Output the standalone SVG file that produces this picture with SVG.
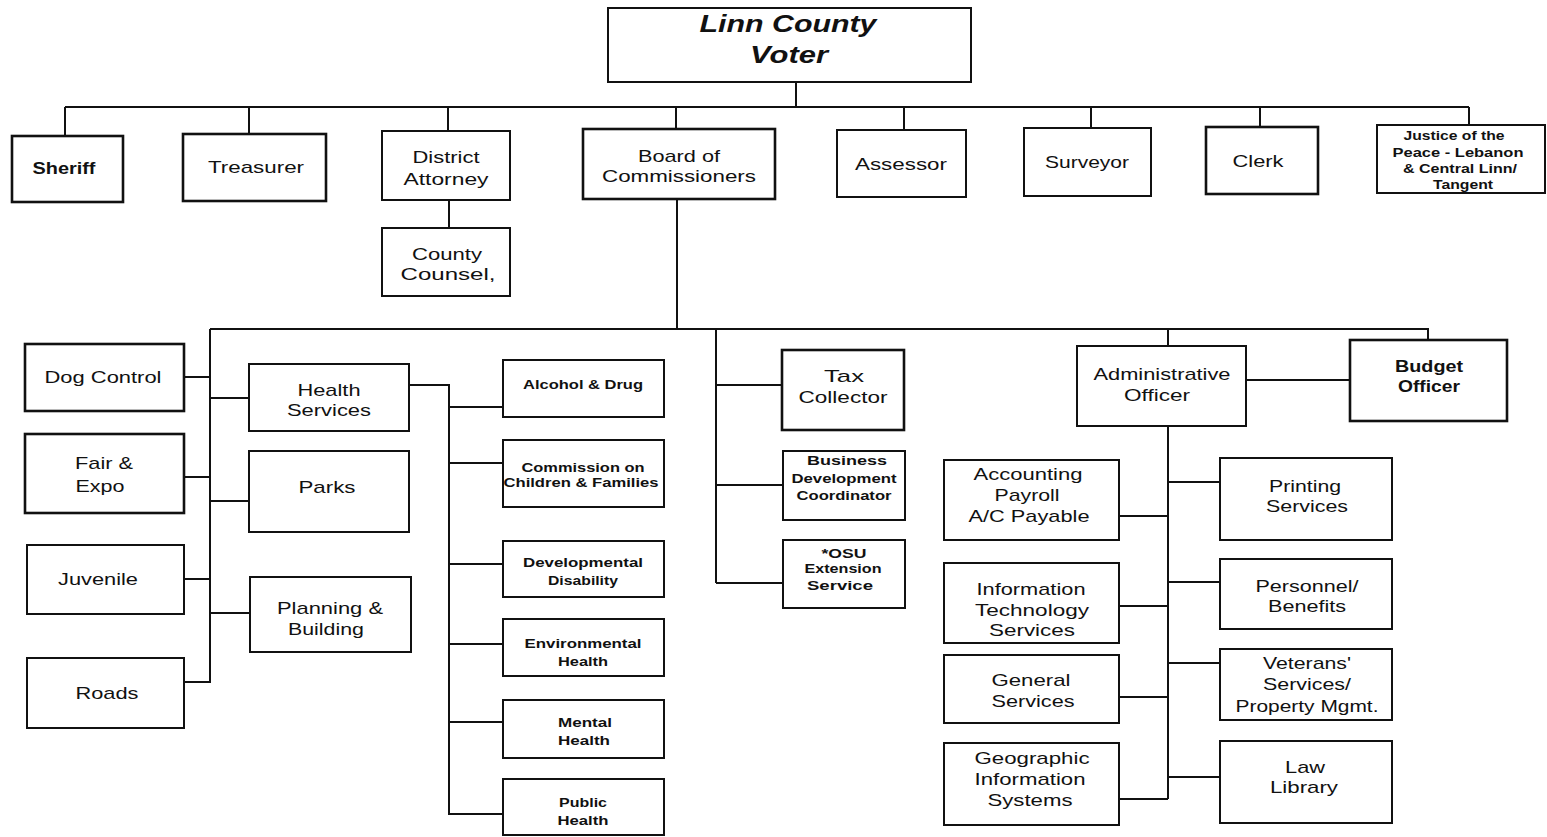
<svg xmlns="http://www.w3.org/2000/svg" width="1547" height="837" viewBox="0 0 1547 837">
<style>
.box{fill:#fff;stroke:#111;stroke-width:2}
.heavy{stroke-width:2.6}
.c{fill:none;stroke:#111;stroke-width:2}
text{font-family:"Liberation Sans",Arial,sans-serif;fill:#111;text-anchor:middle}
.t{font-size:17px}
.b{font-weight:bold}
.s{font-size:13px;font-weight:bold}
.v{font-size:24px;font-weight:bold;font-style:italic}
</style>
<rect width="1547" height="837" fill="#fff"/>
<g id="connectors">
<path class="c" d="M796 82V107M65 107H1469M65 107V136M249 107V134M448 107V131M676 107V129M904 107V130M1091 107V128M1260 107V127M1469 107V125"/>
<path class="c" d="M449 200V228M677 199V329M210 329H1428V340M210 329V683"/>
<path class="c" d="M184 377H210M184 477H210M184 579H210M184 682H210M210 398H249M210 501H249M210 613H250"/>
<path class="c" d="M409 385H449V814H503M449 407H503M449 463H503M449 564H503M449 644H503M449 722H503"/>
<path class="c" d="M716 329V583M716 385H782M716 485H783M716 583H783"/>
<path class="c" d="M1168 329V346M1246 380H1350M1168 426V799M1119 516H1168M1119 606H1168M1119 697H1168M1119 799H1168M1168 482H1220M1168 582H1220M1168 663H1220M1168 777H1220"/>
</g>
<g id="voter"><rect class="box" x="608" y="8" width="363" height="74"/><text class="v" x="788" y="32" textLength="177" lengthAdjust="spacingAndGlyphs">Linn County</text><text class="v" x="789" y="63" textLength="78" lengthAdjust="spacingAndGlyphs">Voter</text></g>
<g id="sheriff"><rect class="box heavy" x="12" y="136" width="111" height="66"/><text class="t b" x="64" y="174" textLength="63" lengthAdjust="spacingAndGlyphs">Sheriff</text></g>
<g id="treasurer"><rect class="box heavy" x="183" y="134" width="143" height="67"/><text class="t" x="256" y="173" textLength="96" lengthAdjust="spacingAndGlyphs">Treasurer</text></g>
<g id="district-attorney"><rect class="box" x="382" y="131" width="128" height="69"/><text class="t" x="446" y="163" textLength="67" lengthAdjust="spacingAndGlyphs">District</text><text class="t" x="446" y="185" textLength="85" lengthAdjust="spacingAndGlyphs">Attorney</text></g>
<g id="county-counsel"><rect class="box" x="382" y="228" width="128" height="68"/><text class="t" x="447" y="260" textLength="70" lengthAdjust="spacingAndGlyphs">County</text><text class="t" x="448" y="280" textLength="95" lengthAdjust="spacingAndGlyphs">Counsel,</text></g>
<g id="board"><rect class="box heavy" x="583" y="129" width="192" height="70"/><text class="t" x="679" y="162" textLength="82" lengthAdjust="spacingAndGlyphs">Board of</text><text class="t" x="679" y="182" textLength="154" lengthAdjust="spacingAndGlyphs">Commissioners</text></g>
<g id="assessor"><rect class="box" x="837" y="130" width="129" height="67"/><text class="t" x="901" y="170" textLength="92" lengthAdjust="spacingAndGlyphs">Assessor</text></g>
<g id="surveyor"><rect class="box" x="1024" y="128" width="127" height="68"/><text class="t" x="1087" y="168" textLength="84" lengthAdjust="spacingAndGlyphs">Surveyor</text></g>
<g id="clerk"><rect class="box heavy" x="1206" y="127" width="112" height="67"/><text class="t" x="1258" y="167" textLength="51" lengthAdjust="spacingAndGlyphs">Clerk</text></g>
<g id="justice"><rect class="box" x="1377" y="125" width="168" height="68"/><text class="s" x="1454" y="140" textLength="101" lengthAdjust="spacingAndGlyphs">Justice of the</text><text class="s" x="1458" y="157" textLength="131" lengthAdjust="spacingAndGlyphs">Peace - Lebanon</text><text class="s" x="1460" y="173" textLength="114" lengthAdjust="spacingAndGlyphs">&amp; Central Linn/</text><text class="s" x="1463" y="189" textLength="60" lengthAdjust="spacingAndGlyphs">Tangent</text></g>
<g id="dog-control"><rect class="box heavy" x="25" y="344" width="159" height="67"/><text class="t" x="103" y="383" textLength="117" lengthAdjust="spacingAndGlyphs">Dog Control</text></g>
<g id="fair-expo"><rect class="box heavy" x="25" y="434" width="159" height="79"/><text class="t" x="104" y="469" textLength="58" lengthAdjust="spacingAndGlyphs">Fair &amp;</text><text class="t" x="100" y="492" textLength="49" lengthAdjust="spacingAndGlyphs">Expo</text></g>
<g id="juvenile"><rect class="box" x="27" y="545" width="157" height="69"/><text class="t" x="98" y="585" textLength="80" lengthAdjust="spacingAndGlyphs">Juvenile</text></g>
<g id="roads"><rect class="box" x="27" y="658" width="157" height="70"/><text class="t" x="107" y="699" textLength="63" lengthAdjust="spacingAndGlyphs">Roads</text></g>
<g id="health-services"><rect class="box" x="249" y="364" width="160" height="67"/><text class="t" x="329" y="396" textLength="63" lengthAdjust="spacingAndGlyphs">Health</text><text class="t" x="329" y="416" textLength="84" lengthAdjust="spacingAndGlyphs">Services</text></g>
<g id="parks"><rect class="box" x="249" y="451" width="160" height="81"/><text class="t" x="327" y="493" textLength="57" lengthAdjust="spacingAndGlyphs">Parks</text></g>
<g id="planning"><rect class="box" x="250" y="577" width="161" height="75"/><text class="t" x="330" y="614" textLength="106" lengthAdjust="spacingAndGlyphs">Planning &amp;</text><text class="t" x="326" y="635" textLength="76" lengthAdjust="spacingAndGlyphs">Building</text></g>
<g id="alcohol-drug"><rect class="box" x="503" y="360" width="161" height="57"/><text class="s" x="583" y="389" textLength="120" lengthAdjust="spacingAndGlyphs">Alcohol &amp; Drug</text></g>
<g id="commission"><rect class="box" x="503" y="440" width="161" height="67"/><text class="s" x="583" y="472" textLength="123" lengthAdjust="spacingAndGlyphs">Commission on</text><text class="s" x="581" y="487" textLength="155" lengthAdjust="spacingAndGlyphs">Children &amp; Families</text></g>
<g id="developmental"><rect class="box" x="503" y="541" width="161" height="56"/><text class="s" x="583" y="567" textLength="120" lengthAdjust="spacingAndGlyphs">Developmental</text><text class="s" x="583" y="585" textLength="70" lengthAdjust="spacingAndGlyphs">Disability</text></g>
<g id="environmental"><rect class="box" x="503" y="619" width="161" height="57"/><text class="s" x="583" y="648" textLength="117" lengthAdjust="spacingAndGlyphs">Environmental</text><text class="s" x="583" y="666" textLength="50" lengthAdjust="spacingAndGlyphs">Health</text></g>
<g id="mental-health"><rect class="box" x="503" y="700" width="161" height="58"/><text class="s" x="585" y="727" textLength="54" lengthAdjust="spacingAndGlyphs">Mental</text><text class="s" x="584" y="745" textLength="52" lengthAdjust="spacingAndGlyphs">Health</text></g>
<g id="public-health"><rect class="box" x="503" y="779" width="161" height="56"/><text class="s" x="583" y="807" textLength="48" lengthAdjust="spacingAndGlyphs">Public</text><text class="s" x="583" y="825" textLength="51" lengthAdjust="spacingAndGlyphs">Health</text></g>
<g id="tax-collector"><rect class="box heavy" x="782" y="350" width="122" height="80"/><text class="t" x="844" y="382" textLength="40" lengthAdjust="spacingAndGlyphs">Tax</text><text class="t" x="843" y="403" textLength="89" lengthAdjust="spacingAndGlyphs">Collector</text></g>
<g id="business-dev"><rect class="box" x="783" y="451" width="122" height="69"/><text class="s" x="847" y="465" textLength="80" lengthAdjust="spacingAndGlyphs">Business</text><text class="s" x="844" y="483" textLength="105" lengthAdjust="spacingAndGlyphs">Development</text><text class="s" x="844" y="500" textLength="95" lengthAdjust="spacingAndGlyphs">Coordinator</text></g>
<g id="osu-extension"><rect class="box" x="783" y="540" width="122" height="68"/><text class="s" x="844" y="558" textLength="45" lengthAdjust="spacingAndGlyphs">*OSU</text><text class="s" x="843" y="573" textLength="77" lengthAdjust="spacingAndGlyphs">Extension</text><text class="s" x="840" y="590" textLength="66" lengthAdjust="spacingAndGlyphs">Service</text></g>
<g id="admin-officer"><rect class="box" x="1077" y="346" width="169" height="80"/><text class="t" x="1162" y="380" textLength="137" lengthAdjust="spacingAndGlyphs">Administrative</text><text class="t" x="1157" y="401" textLength="66" lengthAdjust="spacingAndGlyphs">Officer</text></g>
<g id="budget-officer"><rect class="box heavy" x="1350" y="340" width="157" height="81"/><text class="t b" x="1429" y="372" textLength="68" lengthAdjust="spacingAndGlyphs">Budget</text><text class="t b" x="1429" y="392" textLength="62" lengthAdjust="spacingAndGlyphs">Officer</text></g>
<g id="accounting"><rect class="box" x="944" y="460" width="175" height="80"/><text class="t" x="1028" y="480" textLength="109" lengthAdjust="spacingAndGlyphs">Accounting</text><text class="t" x="1027" y="501" textLength="65" lengthAdjust="spacingAndGlyphs">Payroll</text><text class="t" x="1029" y="522" textLength="121" lengthAdjust="spacingAndGlyphs">A/C Payable</text></g>
<g id="it-services"><rect class="box" x="944" y="563" width="175" height="80"/><text class="t" x="1031" y="595" textLength="109" lengthAdjust="spacingAndGlyphs">Information</text><text class="t" x="1032" y="616" textLength="114" lengthAdjust="spacingAndGlyphs">Technology</text><text class="t" x="1032" y="636" textLength="86" lengthAdjust="spacingAndGlyphs">Services</text></g>
<g id="general-services"><rect class="box" x="944" y="655" width="175" height="68"/><text class="t" x="1031" y="686" textLength="79" lengthAdjust="spacingAndGlyphs">General</text><text class="t" x="1033" y="707" textLength="83" lengthAdjust="spacingAndGlyphs">Services</text></g>
<g id="gis"><rect class="box" x="944" y="743" width="175" height="82"/><text class="t" x="1032" y="764" textLength="115" lengthAdjust="spacingAndGlyphs">Geographic</text><text class="t" x="1030" y="785" textLength="111" lengthAdjust="spacingAndGlyphs">Information</text><text class="t" x="1030" y="806" textLength="85" lengthAdjust="spacingAndGlyphs">Systems</text></g>
<g id="printing"><rect class="box" x="1220" y="458" width="172" height="82"/><text class="t" x="1305" y="492" textLength="72" lengthAdjust="spacingAndGlyphs">Printing</text><text class="t" x="1307" y="512" textLength="82" lengthAdjust="spacingAndGlyphs">Services</text></g>
<g id="personnel"><rect class="box" x="1220" y="559" width="172" height="70"/><text class="t" x="1307" y="592" textLength="103" lengthAdjust="spacingAndGlyphs">Personnel/</text><text class="t" x="1307" y="612" textLength="78" lengthAdjust="spacingAndGlyphs">Benefits</text></g>
<g id="veterans"><rect class="box" x="1220" y="649" width="172" height="71"/><text class="t" x="1307" y="669" textLength="88" lengthAdjust="spacingAndGlyphs">Veterans'</text><text class="t" x="1307" y="690" textLength="88" lengthAdjust="spacingAndGlyphs">Services/</text><text class="t" x="1307" y="712" textLength="143" lengthAdjust="spacingAndGlyphs">Property Mgmt.</text></g>
<g id="law-library"><rect class="box" x="1220" y="741" width="172" height="82"/><text class="t" x="1305" y="773" textLength="40" lengthAdjust="spacingAndGlyphs">Law</text><text class="t" x="1304" y="793" textLength="68" lengthAdjust="spacingAndGlyphs">Library</text></g>
</svg>
